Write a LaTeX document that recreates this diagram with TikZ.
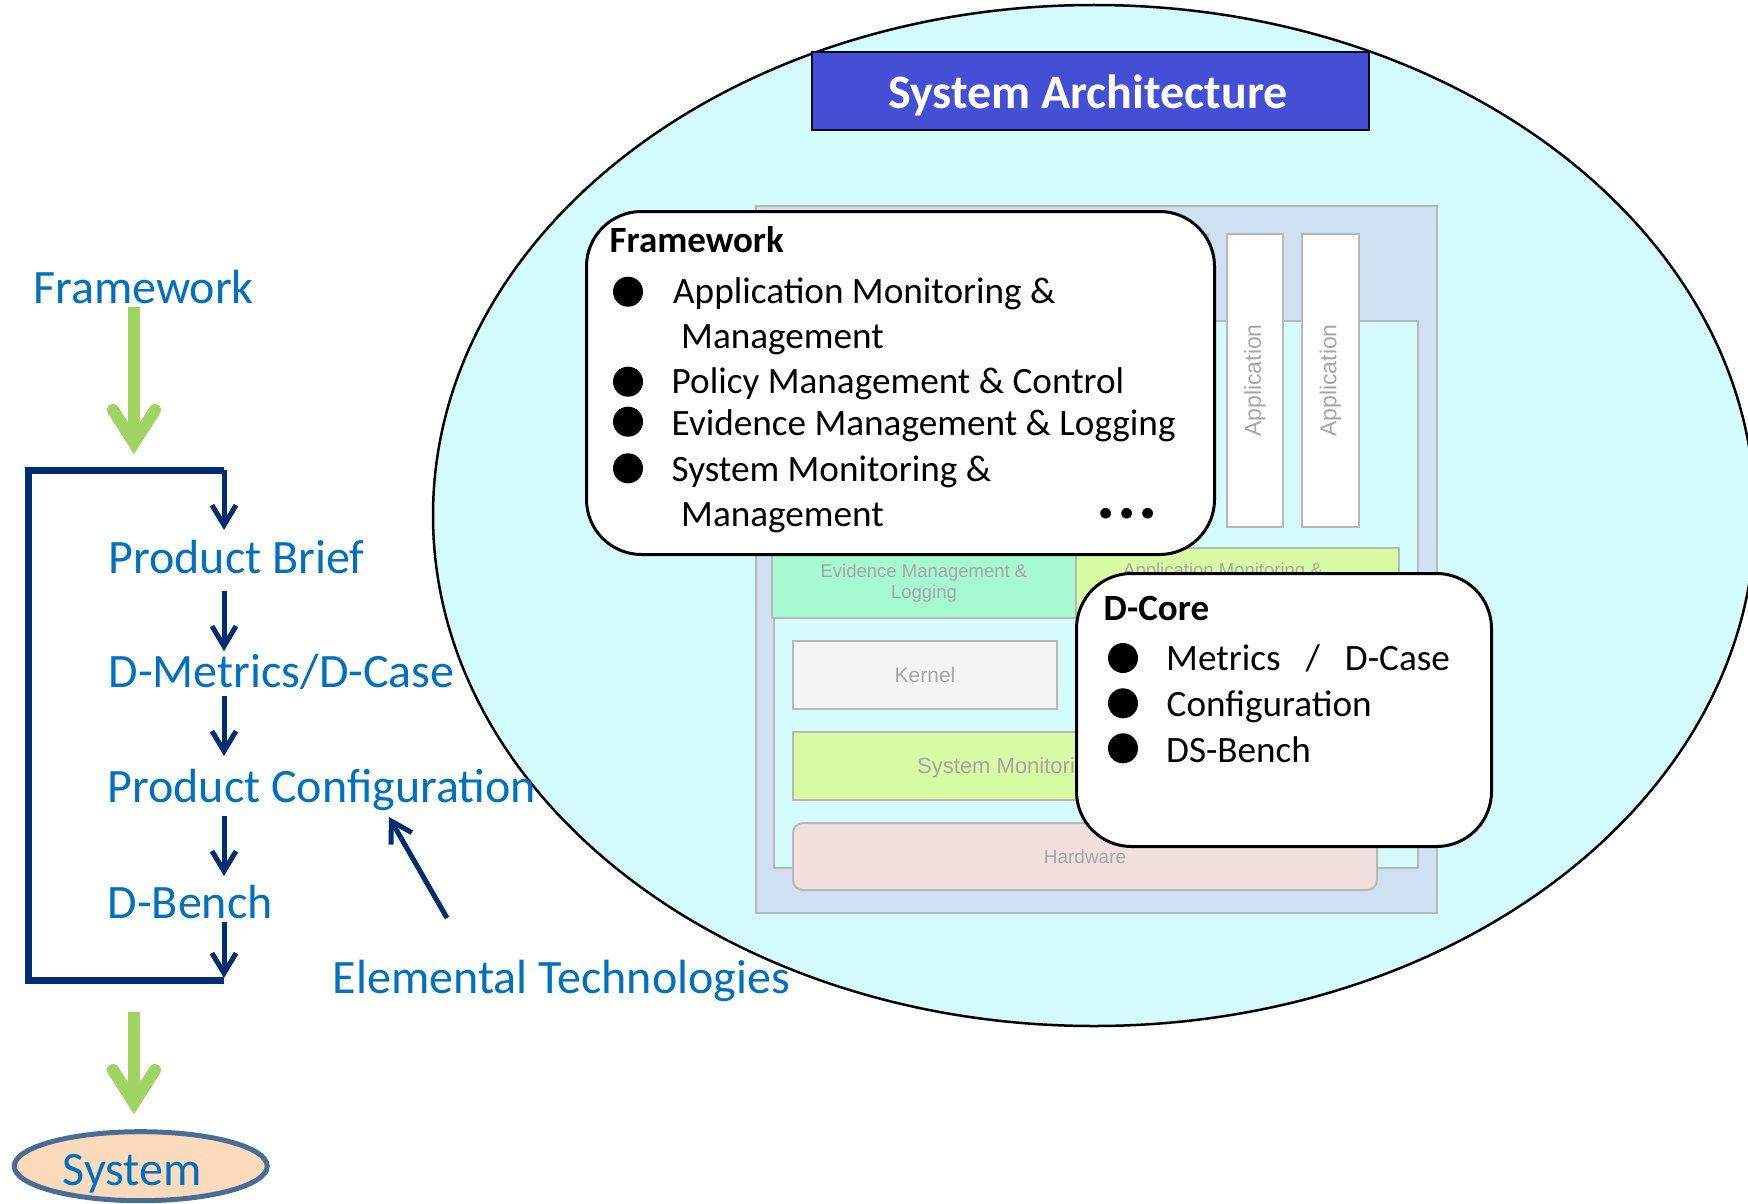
\documentclass[tikz,border=0pt]{standalone}
\usepackage{fontspec}
\setmainfont{Carlito}
\newfontfamily\archfont{Liberation Sans}
\usetikzlibrary{arrows.meta,calc,shapes.geometric}

\definecolor{skycyan}{RGB}{212,252,252}
\definecolor{archblue}{RGB}{207,224,242}
\definecolor{framegray}{RGB}{184,184,184}
\definecolor{labelgray}{RGB}{166,166,166}
\definecolor{mint}{RGB}{166,250,211}
\definecolor{limepale}{RGB}{216,252,164}
\definecolor{kernelgray}{RGB}{244,244,244}
\definecolor{hwpink}{RGB}{242,224,222}
\definecolor{titleblue}{RGB}{68,79,214}
\definecolor{textblue}{RGB}{0,112,192}
\definecolor{navy}{RGB}{0,45,114}
\definecolor{leafgreen}{RGB}{160,212,98}
\definecolor{peach}{RGB}{251,219,188}
\definecolor{steel}{RGB}{72,110,152}

\newcommand{\fs}[1]{\fontsize{#1}{#1}\selectfont}

\begin{document}
\begin{tikzpicture}[x=1pt,y=-1pt,
  archbox/.style={draw=framegray, line width=2pt, inner sep=0pt, anchor=north west},
  graylabel/.style={text=labelgray, font=\archfont\fs{21}, align=center, inner sep=0pt},
  steplabel/.style={text=textblue, font=\fs{48}, anchor=base west, inner sep=0pt},
  notebox/.style={draw=black, fill=white, line width=3pt, rounded corners=55pt, inner sep=0pt, anchor=north west},
  bodytext/.style={font=\fs{37.2}, anchor=base west, inner sep=0pt},
  headtext/.style={font=\bfseries\fs{37}, anchor=base west, inner sep=0pt},
  dotmark/.style={circle, fill=black, inner sep=0pt, minimum size=30pt},
  flow/.style={draw=navy, line width=5pt, -{Straight Barb[length=20pt,width=24pt]}},
  loopline/.style={draw=navy, line width=7pt},
  greenshaft/.style={draw=leafgreen, line width=12pt},
  greenhead/.style={draw=leafgreen, line width=12pt, line cap=round, line join=miter},
]
\useasboundingbox (0,0) rectangle (1748,1204);
\fill[white] (0,0) rectangle (1748,1204);
\clip (0,0) rectangle (1748,1204);

% ---------- system architecture ----------
\draw[fill=skycyan, line width=2.5pt] (1094,515.5) ellipse [x radius=661, y radius=510.5];

\node[draw=black!80!navy, line width=2pt, fill=titleblue, minimum width=557pt,
      minimum height=78pt, inner sep=0pt, anchor=north west] (title) at (811,51) {};
\node[text=white, font=\bfseries\fs{48}, anchor=base, inner sep=0pt] (titletext) at (1088,108.5) {System Architecture};

% layered stack
\node[archbox, fill=archblue, minimum width=681pt, minimum height=707pt] (stack) at (755,205) {};
\node[archbox, fill=skycyan, minimum width=644pt, minimum height=547pt] (inner) at (773,320) {};

\node[archbox, fill=white, minimum width=56pt, minimum height=293pt] (app0) at (1151,233) {};
\node[archbox, fill=white, minimum width=56pt, minimum height=293pt] (app1) at (1226,233) {};
\node[archbox, fill=white, minimum width=57pt, minimum height=293pt] (app2) at (1301,233) {};
\node[graylabel, font=\archfont\fs{23}, rotate=90] at (app1.center) {Application};
\node[graylabel, font=\archfont\fs{23}, rotate=90] at (app2.center) {Application};

\node[archbox, fill=mint, minimum width=304pt, minimum height=70pt] (evid) at (771,547) {};
\node[graylabel, font=\archfont\fontsize{18.5}{21}\selectfont] at (evid.center) {Evidence Management \&\\Logging};
\node[archbox, fill=limepale, minimum width=323pt, minimum height=70pt] (appmon) at (1075,547) {};
\node[graylabel, font=\archfont\fs{18.5}, anchor=base west] at (1123,576) {Application Monitoring \&};

\node[archbox, fill=kernelgray, minimum width=264pt, minimum height=68pt] (kernel) at (792,640) {};
\node[graylabel] at (kernel.center) {Kernel};

\node[archbox, fill=limepale, minimum width=572pt, minimum height=68pt] (sysmon) at (792,731) {};
\node[graylabel, font=\archfont\fs{22}, anchor=base west] at (917,773) {System Monitoring};

\node[archbox, fill=hwpink, rounded corners=10pt, minimum width=584pt, minimum height=67pt] (hw) at (792,822) {};
\node[graylabel, font=\archfont\fs{19}] at (hw.center) {Hardware};

% framework note
\node[notebox, minimum width=628pt, minimum height=343pt] (fwbox) at (585,210) {};
\node[headtext] at (609.5,252.7) {Framework};
\node[dotmark] at (628,291.7) {};
\node[dotmark] at (628,381.7) {};
\node[dotmark] at (628,421.7) {};
\node[dotmark] at (628,468.3) {};
\node[bodytext] at (673,303.3) {Application Monitoring \&};
\node[bodytext] at (681,348.3) {Management};
\node[bodytext] at (671.5,393.3) {Policy Management \& Control};
\node[bodytext] at (671.5,435) {Evidence Management \& Logging};
\node[bodytext] at (671.5,481.7) {System Monitoring \&};
\node[bodytext] at (681,526.7) {Management};
\node[font=\bfseries\fs{72}, anchor=base west, inner sep=0pt] at (1096,518) {.\kern2pt.\kern2pt.};

% D-Core note
\node[notebox, minimum width=415pt, minimum height=273pt] (dcore) at (1075,572) {};
\node[headtext] at (1103.5,620) {D-Core};
\node[dotmark] at (1123,658) {};
\node[dotmark] at (1123,703.3) {};
\node[dotmark] at (1123,748.3) {};
\node[bodytext] at (1166,670) {Metrics\hspace{25pt}/\hspace{25pt}D-Case};
\node[bodytext] at (1166.5,716) {Configuration};
\node[bodytext] at (1166,762) {DS-Bench};

% ---------- development flow ----------
\node[steplabel] (fwlabel) at (33,303) {Framework};
\node[steplabel] (brief) at (108.5,573) {Product Brief};
\node[steplabel] (metrics) at (108.5,687) {D-Metrics/D-Case};
\node[steplabel] (config) at (107.5,802) {Product Configuration};
\node[steplabel] (bench) at (107.5,918) {D-Bench};
\node[steplabel] (elem) at (332.5,993) {Elemental Technologies};

\node[ellipse, draw=steel, line width=5pt, fill=peach, minimum width=253pt,
      minimum height=69pt, inner sep=0pt] (system) at (140.75,1166.2) {};
\node[steplabel] (systext) at (62.5,1185) {System};

% green arrows
\coordinate (g1top) at (134,307);
\coordinate (g1tip) at (134,443);
\draw[greenshaft] (g1top) -- (g1tip);
\draw[greenhead] ($(g1tip)+(-21,-33)$) -- (g1tip) -- ($(g1tip)+(21,-33)$);

\coordinate (g2top) at (134,1012);
\coordinate (g2tip) at (134,1103);
\draw[greenshaft] (g2top) -- (g2tip);
\draw[greenhead] ($(g2tip)+(-21,-33)$) -- (g2tip) -- ($(g2tip)+(21,-33)$);

% feedback loop
\coordinate (loopTR) at (224,470);
\coordinate (loopBR) at (224,980.5);
\draw[loopline] (loopTR) -- (28.5,470) -- (28.5,980.5) -- (loopBR);

\coordinate (a0) at (224,470);
\coordinate (a1) at (224,530);
\coordinate (b0) at (224,591);
\coordinate (b1) at (224,651);
\coordinate (c0) at (224,696);
\coordinate (c1) at (224,756);
\coordinate (d0) at (224,816);
\coordinate (d1) at (224,876);
\coordinate (e0) at (224,922);
\coordinate (e1) at (224,978);
\draw[flow] (a0) -- (a1);
\draw[flow] (b0) -- (b1);
\draw[flow] (c0) -- (c1);
\draw[flow] (d0) -- (d1);
\draw[flow] (e0) -- (e1);

\coordinate (etail) at (447,918);
\coordinate (etip) at (389,817);
\draw[flow] (etail) -- (etip);
\end{tikzpicture}
\end{document}
